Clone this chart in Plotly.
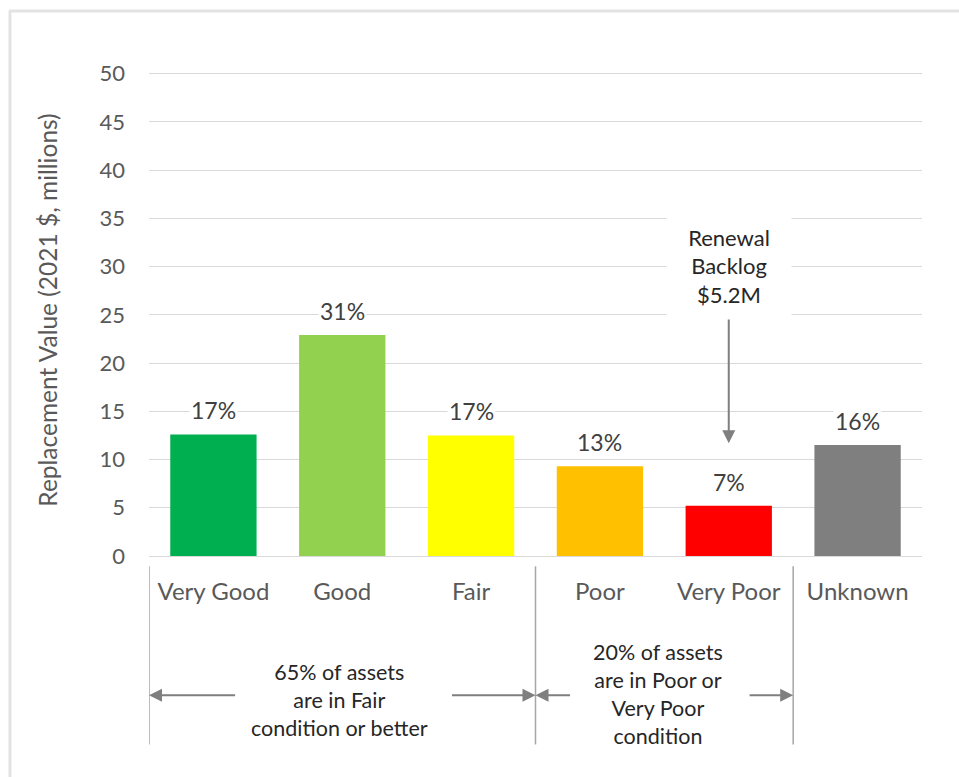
import plotly.graph_objects as go

# Asset condition categories and replacement values (2021 $, millions)
categories = ["Very Good", "Good", "Fair", "Poor", "Very Poor", "Unknown"]
values = [12.6, 22.9, 12.5, 9.3, 5.2, 11.5]
shares = ["17%", "31%", "17%", "13%", "7%", "16%"]
colors = ["#00b050", "#92d050", "#ffff00", "#ffc000", "#ff0000", "#7f7f7f"]
y_ticks = [0, 5, 10, 15, 20, 25, 30, 35, 40, 45, 50]

backlog_label = "Renewal<br>Backlog<br>$5.2M"
good_group_label = "65% of assets<br>are in Fair<br>condition or better"
poor_group_label = "20% of assets<br>are in Poor or<br>Very Poor<br>condition"

FONT = "Lato"
GREY_TXT = "#595959"
DARK_TXT = "#262626"
ARROW = "#7f7f7f"

fig = go.Figure()
fig.add_trace(go.Bar(
    x=categories,
    y=values,
    marker=dict(color=colors, line=dict(width=0)),
    width=0.67,
    hoverinfo="x+y",
))

annotations = []
# share labels above each bar
for cat, v, s in zip(categories, values, shares):
    annotations.append(dict(
        x=cat, y=v, xref="x", yref="y", text=s, showarrow=False,
        yshift=24, font=dict(family=FONT, size=23, color="#404040"),
        bgcolor="white", borderpad=1,
    ))

# renewal backlog callout with downward arrow onto the Very Poor bar
annotations.append(dict(
    x="Very Poor", y=11.7, xref="x", yref="y", ax="Very Poor", ay=25.3,
    axref="x", ayref="y", text="", showarrow=True, arrowhead=2,
    arrowsize=1.3, arrowwidth=2, arrowcolor=ARROW,
))
annotations.append(dict(
    x="Very Poor", y=30.1, xref="x", yref="y", text=backlog_label,
    showarrow=False, font=dict(family=FONT, size=22, color=DARK_TXT),
    bgcolor="white", width=122, height=104, align="center",
))

# group brackets below the category axis (y in plot-height fractions)
ARROW_Y = -0.283


def hbar_arrow(tip, tail):
    return dict(
        x=tip, y=ARROW_Y, xref="x", yref="y domain", ax=tail, ay=ARROW_Y,
        axref="x", ayref="y domain", text="", showarrow=True, arrowhead=2,
        arrowsize=1.3, arrowwidth=2, arrowcolor=ARROW,
    )


annotations += [
    hbar_arrow(-0.5, 0.18),
    hbar_arrow(2.5, 1.84),
    hbar_arrow(2.5, 2.78),
    hbar_arrow(4.5, 4.15),
]
annotations.append(dict(
    x=0.98, y=-0.293, xref="x", yref="y domain", text=good_group_label,
    showarrow=False, font=dict(family=FONT, size=21.5, color=DARK_TXT),
    align="center", yanchor="middle",
))
annotations.append(dict(
    x=3.45, y=-0.281, xref="x", yref="y domain", text=poor_group_label,
    showarrow=False, font=dict(family=FONT, size=21.5, color=DARK_TXT),
    align="center", yanchor="middle",
))

shapes = []
# vertical separators between category groups
for xb in [-0.5, 2.5, 4.5]:
    shapes.append(dict(
        type="line", xref="x", yref="y domain", x0=xb, x1=xb,
        y0=-0.021, y1=-0.383, line=dict(color="#a6a6a6", width=1.5),
    ))
# light frame around the chart area
shapes.append(dict(
    type="line", xref="paper", yref="paper", xsizemode="pixel",
    ysizemode="pixel", xanchor=0, yanchor=1,
    x0=-139, x1=-139, y0=53, y1=-900,
    line=dict(color="#e3e3e3", width=3),
))
shapes.append(dict(
    type="line", xref="paper", yref="paper", xsizemode="pixel",
    ysizemode="pixel", xanchor=0, yanchor=1,
    x0=-140, x1=1000, y0=53, y1=53,
    line=dict(color="#e3e3e3", width=3),
))

fig.update_layout(
    width=959, height=777,
    margin=dict(l=149, r=37, t=64, b=221, autoexpand=False),
    paper_bgcolor="white", plot_bgcolor="white",
    showlegend=False,
    bargap=0.33,
    font=dict(family=FONT, color=GREY_TXT),
    annotations=annotations,
    shapes=shapes,
    xaxis=dict(
        range=[-0.5, 5.5], autorange=False,
        showgrid=False, showline=False, zeroline=False, automargin=False,
        tickfont=dict(family=FONT, size=24, color=GREY_TXT),
        ticks="", ticklabelstandoff=19,
    ),
    yaxis=dict(
        range=[0, 51], tickvals=y_ticks, showgrid=True, automargin=False,
        gridcolor="#d9d9d9", gridwidth=1.2,
        zeroline=True, zerolinecolor="#d9d9d9", zerolinewidth=1.2,
        showline=False, ticks="", ticklabelstandoff=23,
        tickfont=dict(family=FONT, size=22, color=GREY_TXT),
        title=dict(text="Replacement Value (2021 $, millions)",
                   font=dict(family=FONT, size=24.5, color=GREY_TXT),
                   standoff=34),
    ),
)

fig.write_html("out.html")
